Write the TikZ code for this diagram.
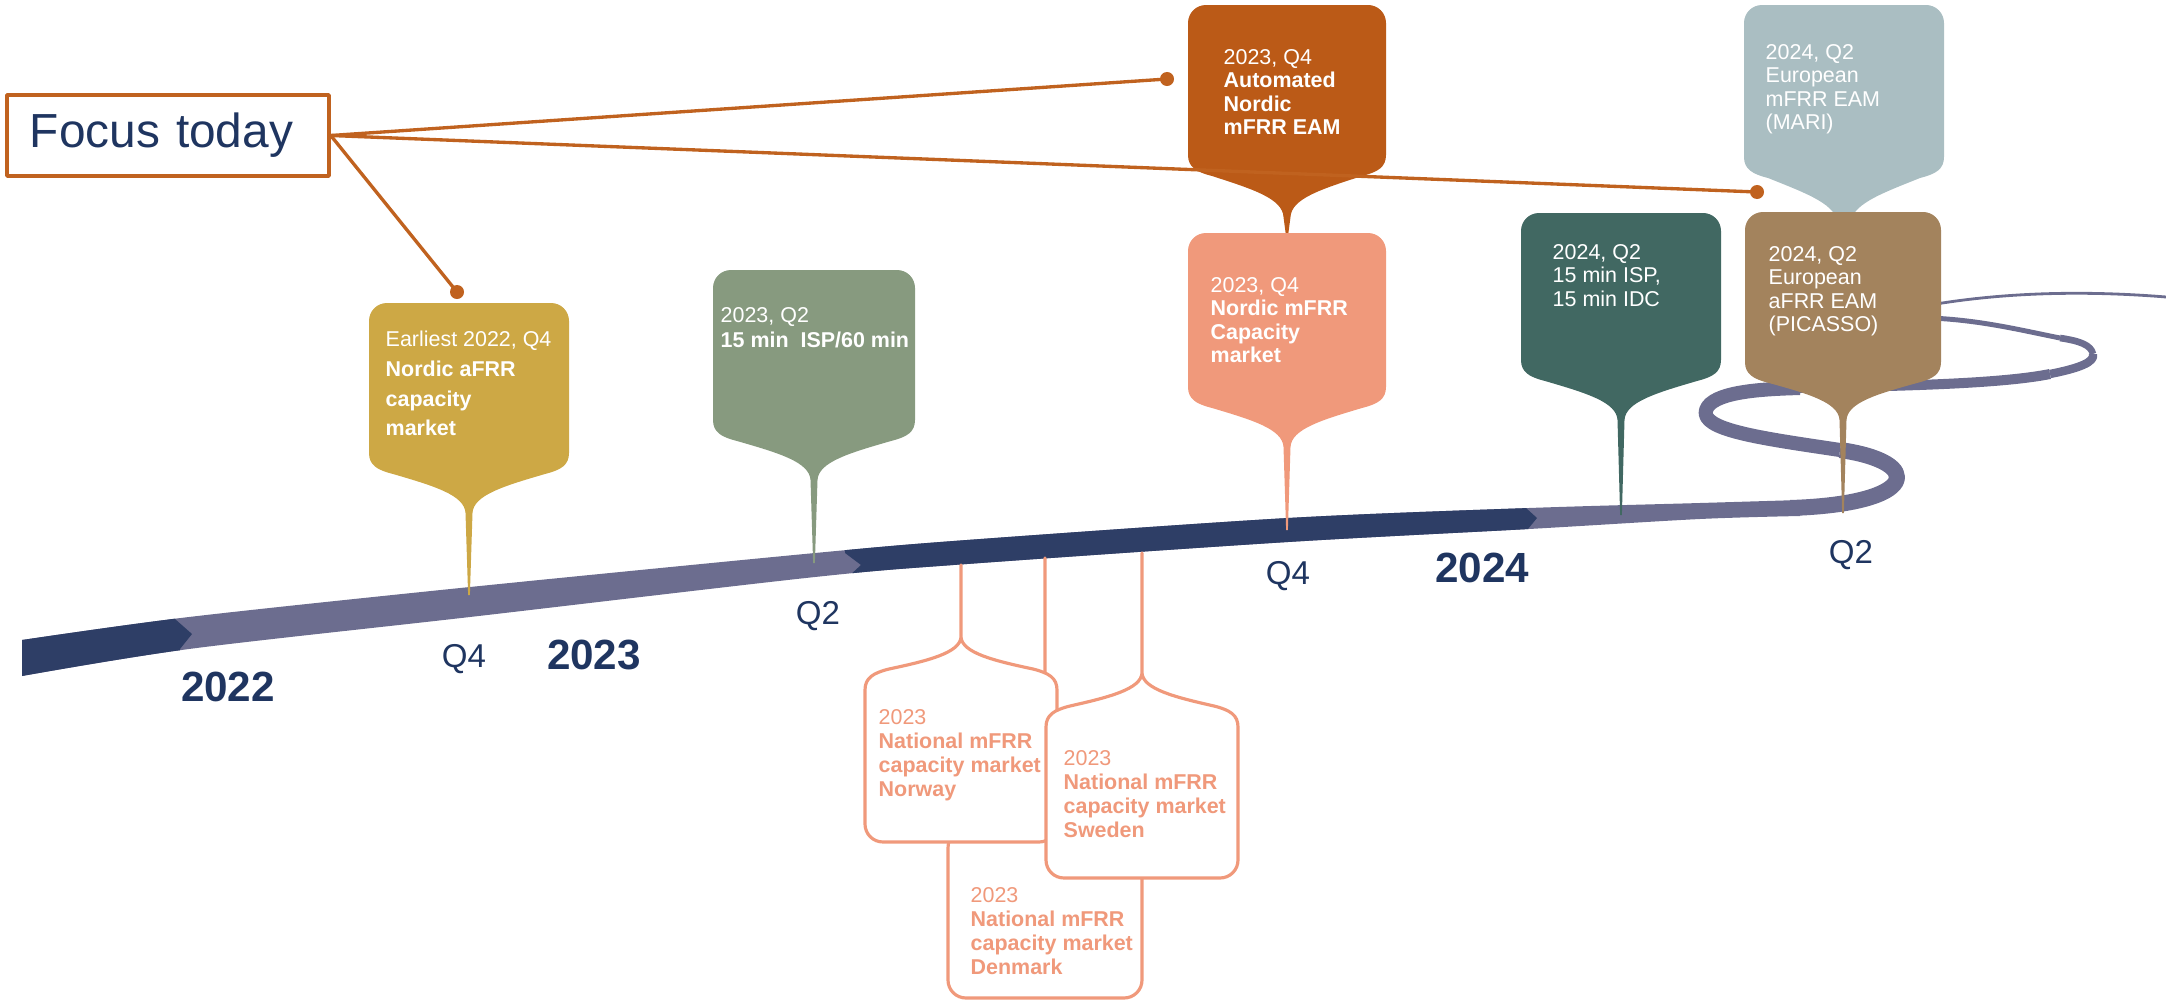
\documentclass[tikz,border=0pt]{standalone}
\usepackage{fontspec}
\setmainfont{Liberation Sans}
\usepackage{tikz}
\usetikzlibrary{positioning}

\definecolor{navyband}{HTML}{2E3E66}
\definecolor{lavband}{HTML}{6C6D8F}
\definecolor{labelnavy}{HTML}{1F3560}
\definecolor{focusline}{HTML}{C0621F}
\definecolor{goldpin}{HTML}{CDA845}
\definecolor{sagepin}{HTML}{879A7F}
\definecolor{rustpin}{HTML}{BB5A17}
\definecolor{salmonpin}{HTML}{F0997B}
\definecolor{tealpin}{HTML}{416862}
\definecolor{maripin}{HTML}{AABEC2}
\definecolor{picassopin}{HTML}{A3835D}

% pin: #1 half width, #2 side length, #3 neck depth, #4 neck half width, #5 stem length
\newcommand{\pinpath}[5]{(-#1,18) .. controls (-#1,8) and ({-#1+8},0) .. ({-#1+18},0) -- ({#1-18},0)
  .. controls ({#1-8},0) and (#1,8) .. (#1,18) -- (#1,#2)
  .. controls (#1,{#2+12}) and ({#1-8},{#2+17}) .. ({#1-24},{#2+21})
  .. controls ({0.35*#1},{#2+0.55*(#3-#2)}) and ({#4+1},{#2+0.7*(#3-#2)}) .. (#4,#3)
  -- ({#4/4},#5) -- ({-#4/4},#5) -- (-#4,#3)
  .. controls ({-#4-1},{#2+0.7*(#3-#2)}) and ({-0.35*#1},{#2+0.55*(#3-#2)}) .. ({-#1+24},{#2+21})
  .. controls ({-#1+8},{#2+17}) and (-#1,{#2+12}) .. (-#1,#2) -- cycle}

% timeline band
\newcommand{\bandpath}{plot[smooth] coordinates {(22,640) (189,617) (470,587) (815,553) (967,540) (1288,518) (1529,508) (1700,503) (1800,500)}
  -- plot[smooth] coordinates {(1800,516) (1700,519) (1529,529) (1288,542) (967,564) (815,577) (470,617) (189,649) (22,676)} -- cycle}

\begin{document}
\begin{tikzpicture}[x=0.01cm, y=-0.01cm, line join=round,
    focusedge/.style={draw=focusline, line width=0.95pt},
    swirl/.style={draw=lavband, line cap=butt}]
% Define styles for pins, texts and labels
\tikzstyle{pintext} = [anchor=north west, inner sep=0pt, align=left, text=white, font=\fontsize{6.1}{6.6}\selectfont]
\tikzstyle{outlinetext} = [pintext, text=salmonpin, font=\fontsize{6.1}{6.8}\selectfont]
\tikzstyle{outlinepin} = [fill=white, draw=salmonpin, line width=0.9pt]
\tikzstyle{yearlabel} = [text=labelnavy, font=\bfseries\fontsize{12}{14}\selectfont]
\tikzstyle{qlabel} = [text=labelnavy, font=\fontsize{9.4}{11}\selectfont]
\tikzstyle{focusbox} = [draw=focusline, line width=0.95pt, text=labelnavy, font=\fontsize{13.6}{16}\selectfont, minimum height=0.81cm, text width=2.76cm, inner xsep=0.23cm, align=left]
\tikzstyle{dot} = [circle, fill=focusline, inner sep=0pt, minimum size=0.14cm]

\useasboundingbox (0,0) rectangle (2166,1003);

% Timeline band
\fill[lavband] \bandpath;
\begin{scope}
\clip (0,580) -- (175,580) -- (175,619) -- (192,634) -- (180,649) -- (180,720) -- (0,720) -- cycle
      (845,470) -- (845,553) -- (861,565) -- (848,577) -- (848,640) -- (1528,640) -- (1528,529) -- (1537,518) -- (1526,508) -- (1526,470) -- cycle;
\fill[navyband] \bandpath;
\end{scope}

% Swirl at the end
\draw[swirl, line width=4.55pt] (1790,508) .. controls (1920,504) and (1925,462) .. (1840,450);
\draw[swirl, line width=4pt] (1840,450) .. controls (1760,438) and (1700,430) .. (1706,410) .. controls (1712,392) and (1760,389) .. (1800,388);
\draw[swirl, line width=2.85pt] (1800,388) .. controls (1900,386) and (2000,384) .. (2050,374);
\draw[swirl, line width=2.4pt] (2050,374) .. controls (2080,368) and (2095,362) .. (2093,354);
\draw[swirl, line width=1.9pt] (2093,354) .. controls (2091,345) and (2080,341) .. (2060,338);
\draw[swirl, line width=1.4pt] (2060,338) .. controls (2020,330) and (1980,320) .. (1930,318);
\draw[swirl, line width=0.8pt] (1930,305) .. controls (2000,293) and (2080,290) .. (2166,297);

% Pins above the timeline
\fill[goldpin, shift={(469,303)}] \pinpath{100}{150}{210}{3.5}{292};
\fill[sagepin, shift={(814,270)}] \pinpath{101}{150}{210}{3.5}{293};
\fill[rustpin, shift={(1287,5)}] \pinpath{99}{150}{212}{3.5}{232};
\fill[salmonpin, shift={(1287,233)}] \pinpath{99}{154}{214}{3.5}{297};
\fill[tealpin, shift={(1621,213)}] \pinpath{100}{147}{207}{3.5}{302};
\fill[maripin, shift={(1844,5)}] \pinpath{100}{152}{220}{6}{225};
\fill[picassopin, shift={(1843,212)}] \pinpath{98}{150}{208}{3.5}{301};

% Pins below the timeline
\filldraw[outlinepin, shift={(1045,998)}, yscale=-1] \pinpath{97}{150}{205}{0}{440};
\filldraw[outlinepin, shift={(961,842)}, yscale=-1] \pinpath{96}{152}{205}{0}{277};
\filldraw[outlinepin, shift={(1142,878)}, yscale=-1] \pinpath{96}{151}{205}{0}{325};

% Pin texts
\node[pintext, font=\fontsize{6.1}{8.5}\selectfont] (goldtxt) at (385,330) {Earliest 2022, Q4\\\textbf{Nordic aFRR}\\\textbf{capacity}\\\textbf{market}};
\node[pintext, font=\fontsize{6.1}{7.1}\selectfont] (sagetxt) at (720,307) {2023, Q2\\\textbf{15 min~ ISP/60 min}};
\node[pintext] (rusttxt) at (1223,49) {2023, Q4\\\textbf{Automated}\\\textbf{Nordic}\\\textbf{mFRR EAM}};
\node[pintext] (salmontxt) at (1210,277) {2023, Q4\\\textbf{Nordic mFRR}\\\textbf{Capacity}\\\textbf{market}};
\node[pintext] (tealtxt) at (1552,244) {2024, Q2\\15 min ISP,\\15 min IDC};
\node[pintext] (maritxt) at (1765,44) {2024, Q2\\European\\mFRR EAM\\(MARI)};
\node[pintext] (picassotxt) at (1768,246) {2024, Q2\\European\\aFRR EAM\\(PICASSO)};
\node[outlinetext] (denmarktxt) at (970,887) {2023\\\textbf{National mFRR}\\\textbf{capacity market}\\\textbf{Denmark}};
\node[outlinetext] (norwaytxt) at (878,709) {2023\\\textbf{National mFRR}\\\textbf{capacity market}\\\textbf{Norway}};
\node[outlinetext] (swedentxt) at (1063,750) {2023\\\textbf{National mFRR}\\\textbf{capacity market}\\\textbf{Sweden}};

% Years and quarters
\node[yearlabel] (y2022) at (228,687) {2022};
\node[yearlabel] (y2023) at (594,655) {2023};
\node[yearlabel] (y2024) at (1482,568) {2024};
\node[qlabel] (q4a) at (464,659) {Q4};
\node[qlabel] (q2a) at (818,616) {Q2};
\node[qlabel] (q4b) at (1288,576) {Q4};
\node[qlabel] (q2b) at (1851,555) {Q2};

% Focus box and its connectors
\node[focusbox] (focus) at (168,135.5) {Focus today};
\node[dot] (dotrust) at (1167,79) {};
\node[dot] (dotpicasso) at (1757,192) {};
\node[dot] (dotgold) at (457,292) {};
\draw[focusedge] (focus.east) -- (dotrust.center);
\draw[focusedge] (focus.east) -- (dotpicasso.center);
\draw[focusedge] (focus.east) -- (dotgold.center);

\end{tikzpicture}
\end{document}
